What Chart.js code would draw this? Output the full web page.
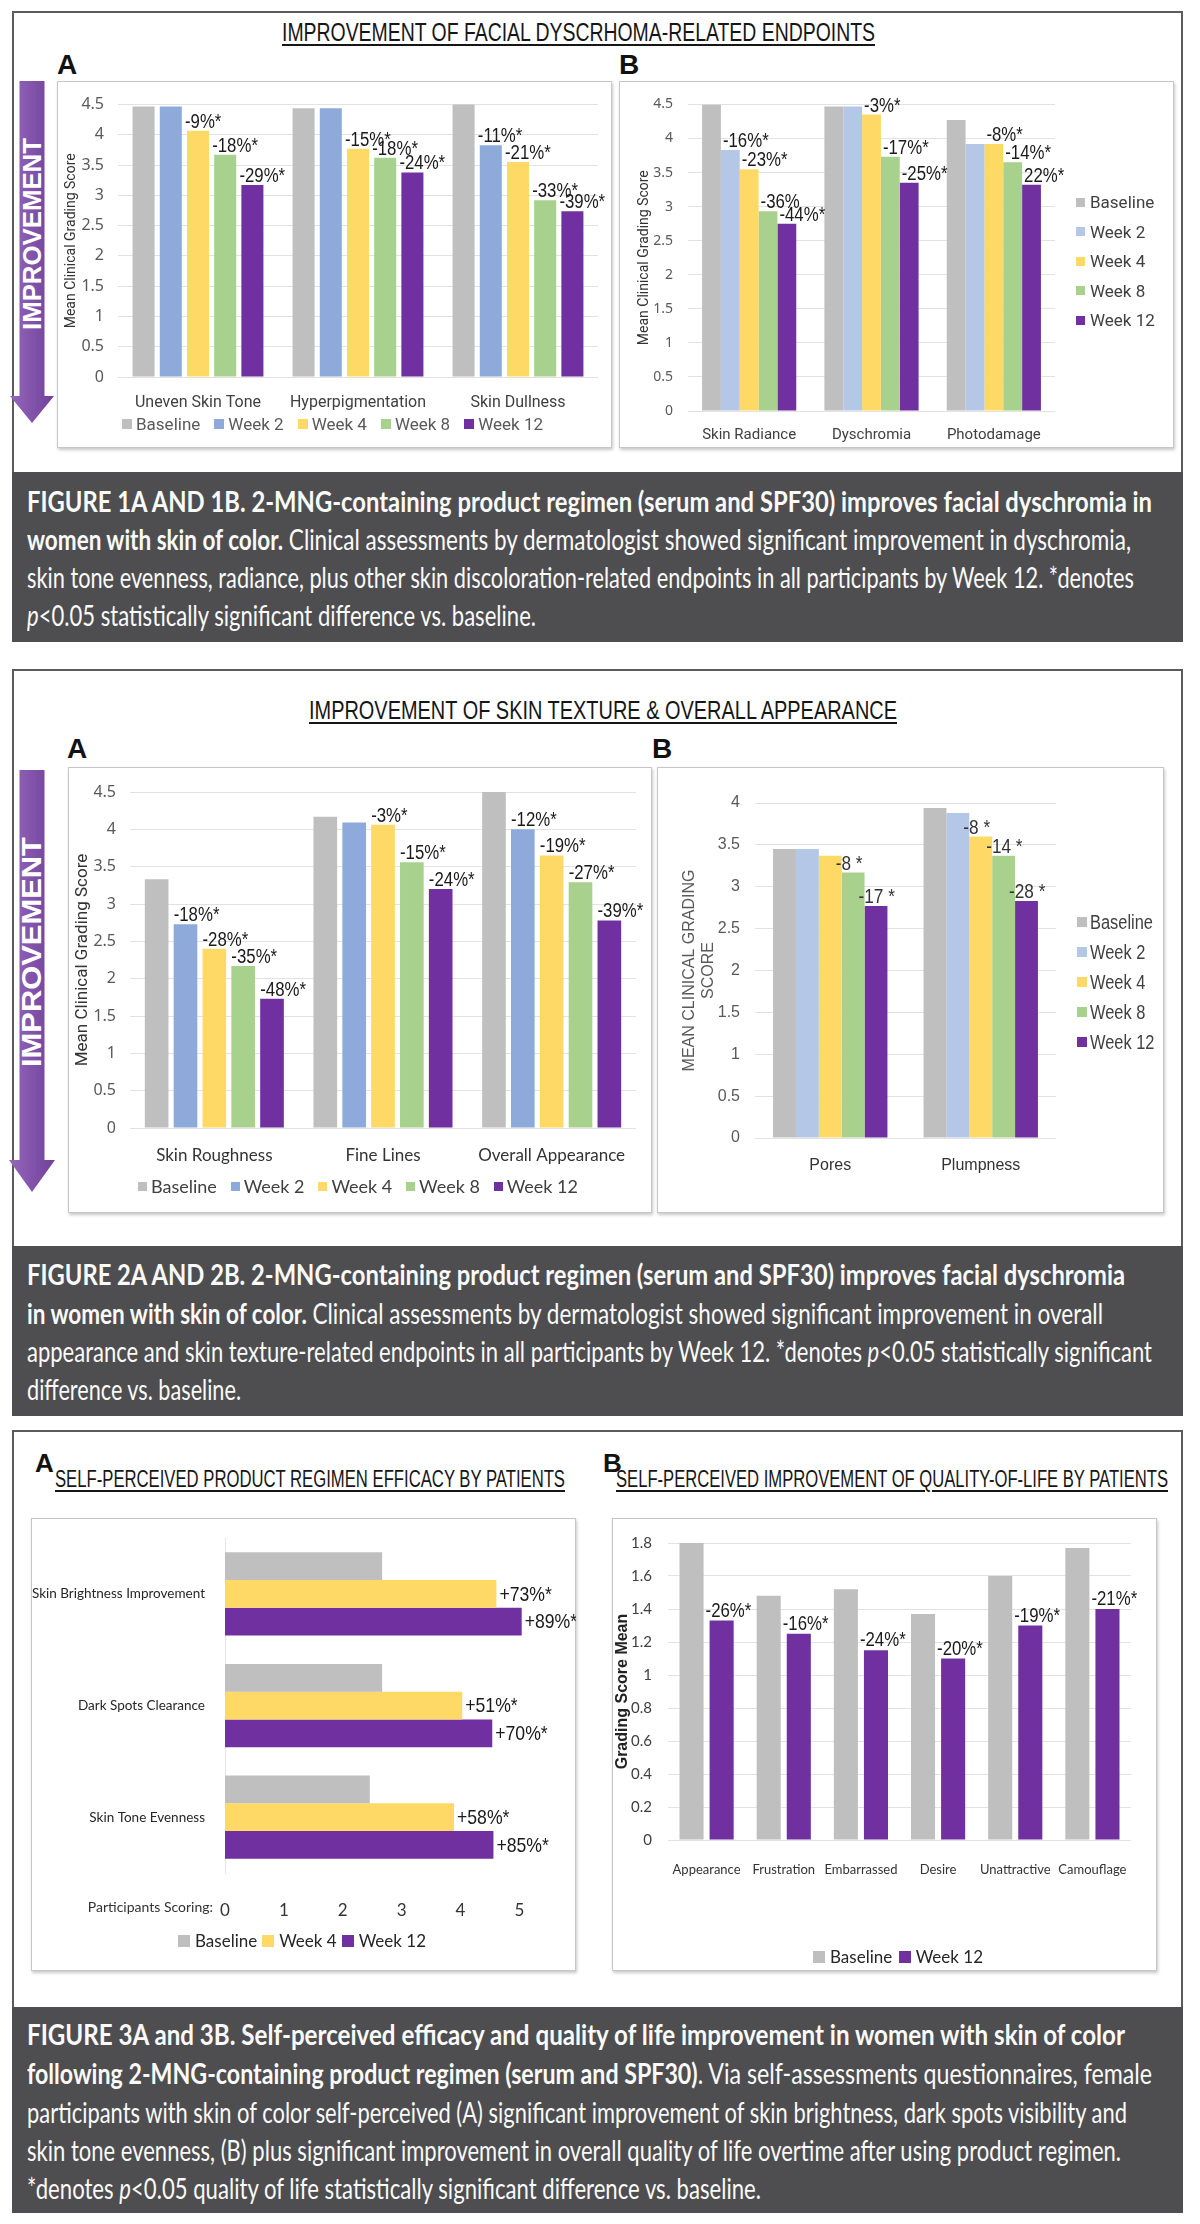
<!DOCTYPE html>
<html><head><meta charset="utf-8"><title>2-MNG figures</title>
<script src="https://cdn.jsdelivr.net/npm/chart.js@4.4.1/dist/chart.umd.min.js"></script>
<style>
html,body{margin:0;padding:0;background:#fff}
body{width:1200px;height:2224px;position:relative;overflow:hidden;font-family:"Liberation Sans",Arial,sans-serif}
.fig{position:absolute;left:12px;width:1171px;border:2px solid #5b5b5b;box-sizing:border-box;background:#fff}
.cap{position:absolute;left:12px;width:1171px;background:#4e4e50}
.ln{position:absolute;left:27px;white-space:nowrap;transform-origin:0 50%;color:#fafafa;font-size:29px;line-height:32px;height:32px;font-family:Lato,"Liberation Sans",sans-serif}
.box{position:absolute;border:1px solid #c6c6c6;box-sizing:border-box;background:#fff;box-shadow:1px 2px 3px rgba(0,0,0,.22)}
canvas{position:absolute}
.ttl{position:absolute;white-space:nowrap;text-decoration:underline;text-decoration-thickness:2px;text-underline-offset:3px;transform-origin:0 50%;color:#161616;line-height:30px;height:30px;font-family:"Liberation Sans",sans-serif}
.pl{position:absolute;font-weight:bold;line-height:30px;height:30px;color:#111;transform:translateY(-50%)}
.lg{position:absolute;display:flex;white-space:nowrap}
.lg .it{display:flex;align-items:center}
.lg .sq{display:inline-block;flex:none}
.lg .tx{display:inline-block;transform-origin:0 50%}
.arr{position:absolute;white-space:nowrap;color:#fff;font-weight:bold;line-height:28px;height:28px}
.txt{position:absolute;white-space:nowrap}
</style></head>
<body>

<!-- Figure frames -->
<div class="fig" style="top:11px;height:631px"></div>
<div class="cap" style="top:472px;height:170px"></div>
<div class="fig" style="top:669px;height:747px"></div>
<div class="cap" style="top:1246px;height:170px"></div>
<div class="fig" style="top:1430px;height:783px"></div>
<div class="cap" style="top:2007px;height:206px"></div>

<!-- Chart boxes -->
<div class="box" style="left:57px;top:81px;width:555px;height:367px"></div>
<div class="box" style="left:619px;top:81px;width:555px;height:367px"></div>
<div class="box" style="left:68px;top:767px;width:584px;height:446px"></div>
<div class="box" style="left:657px;top:767px;width:507px;height:446px"></div>
<div class="box" style="left:31px;top:1518px;width:545px;height:453px"></div>
<div class="box" style="left:612px;top:1518px;width:545px;height:453px"></div>

<!-- Improvement arrows -->
<svg style="position:absolute;left:0;top:0" width="80" height="1300">
<defs><linearGradient id="ag" x1="0" x2="1" y1="0" y2="0"><stop offset="0" stop-color="#9568bb"/><stop offset="0.5" stop-color="#8253aa"/><stop offset="1" stop-color="#70419a"/></linearGradient></defs>
<polygon points="19.5,81 44.5,81 44.5,396 54,396 32,423 10,396 19.5,396" fill="url(#ag)"/>
<polygon points="19.5,770 44.5,770 44.5,1160 55,1160 32,1192 9,1160 19.5,1160" fill="url(#ag)"/>
</svg>
<div class="arr" data-cx="32" data-cy="234" data-len="192" style="font-size:25px">IMPROVEMENT</div>
<div class="arr" data-cx="32" data-cy="952" data-len="230" style="font-size:27px">IMPROVEMENT</div>

<!-- Titles -->
<div class="ttl" data-x1="282" data-x2="875" style="top:17px;font-size:26px">IMPROVEMENT OF FACIAL DYSCRHOMA-RELATED ENDPOINTS</div>
<div class="ttl" data-x1="309" data-x2="897" style="top:695px;font-size:26px">IMPROVEMENT OF SKIN TEXTURE &amp; OVERALL APPEARANCE</div>
<div class="ttl" data-x1="55" data-x2="565" style="top:1464px;font-size:23px">SELF-PERCEIVED PRODUCT REGIMEN EFFICACY BY PATIENTS</div>
<div class="ttl" data-x1="616" data-x2="1168" style="top:1464px;font-size:23px">SELF-PERCEIVED IMPROVEMENT OF QUALITY-OF-LIFE BY PATIENTS</div>

<div class="pl" style="left:57px;top:65px;font-size:28px">A</div>
<div class="pl" style="left:619px;top:65px;font-size:28px">B</div>
<div class="pl" style="left:67px;top:749px;font-size:28px">A</div>
<div class="pl" style="left:652px;top:749px;font-size:28px">B</div>
<div class="pl" style="left:35px;top:1463px;font-size:26px">A</div>
<div class="pl" style="left:603px;top:1463px;font-size:26px">B</div>

<!-- Captions -->
<div class="ln" data-w="1125" style="top:485px"><b>FIGURE 1A AND 1B. 2-MNG-containing product regimen (serum and SPF30) improves facial dyschromia in</b></div>
<div class="ln" data-w="1104" style="top:523px"><b>women with skin of color.</b> Clinical assessments by dermatologist showed significant improvement in dyschromia,</div>
<div class="ln" data-w="1107" style="top:561px">skin tone evenness, radiance, plus other skin discoloration-related endpoints in all participants by Week 12. *denotes</div>
<div class="ln" data-w="509" style="top:599px"><i>p</i>&lt;0.05 statistically significant difference vs. baseline.</div>

<div class="ln" data-w="1098" style="top:1258px"><b>FIGURE 2A AND 2B. 2-MNG-containing product regimen (serum and SPF30) improves facial dyschromia</b></div>
<div class="ln" data-w="1076" style="top:1297px"><b>in women with skin of color.</b> Clinical assessments by dermatologist showed significant improvement in overall</div>
<div class="ln" data-w="1125" style="top:1335px">appearance and skin texture-related endpoints in all participants by Week 12. *denotes <i>p</i>&lt;0.05 statistically significant</div>
<div class="ln" data-w="214" style="top:1373px">difference vs. baseline.</div>

<div class="ln" data-w="1098" style="top:2018px"><b>FIGURE 3A and 3B. Self-perceived efficacy and quality of life improvement in women with skin of color</b></div>
<div class="ln" data-w="1125" style="top:2057px"><b>following 2-MNG-containing product regimen (serum and SPF30)</b>. Via self-assessments questionnaires, female</div>
<div class="ln" data-w="1100" style="top:2096px">participants with skin of color self-perceived (A) significant improvement of skin brightness, dark spots visibility and</div>
<div class="ln" data-w="1094" style="top:2134px">skin tone evenness, (B) plus significant improvement in overall quality of life overtime after using product regimen.</div>
<div class="ln" data-w="734" style="top:2172px">*denotes <i>p</i>&lt;0.05 quality of life statistically significant difference vs. baseline.</div>

<script>
// ---------------- DATA ----------------
const SERIES5 = ['Baseline', 'Week 2', 'Week 4', 'Week 8', 'Week 12'];
const SERIES3A = ['Baseline', 'Week 4', 'Week 12'];
const SERIES3B = ['Baseline', 'Week 12'];

// Figure 1A
const f1aCats = ['Uneven Skin Tone', 'Hyperpigmentation', 'Skin Dullness'];
const f1aBaseline = [4.47, 4.44, 4.58];
const f1aWeek2 = [4.47, 4.44, 3.83];
const f1aWeek4 = [4.07, 3.77, 3.55];
const f1aWeek8 = [3.67, 3.62, 2.92];
const f1aWeek12 = [3.17, 3.38, 2.74];
const f1aWeek2Lbl = ['', '', '-11%*'];
const f1aWeek4Lbl = ['-9%*', '-15%*', '-21%*'];
const f1aWeek8Lbl = ['-18%*', '-18%*', '-33%*'];
const f1aWeek12Lbl = ['-29%*', '-24%*', '-39%*'];

// Figure 1B
const f1bCats = ['Skin Radiance', 'Dyschromia', 'Photodamage'];
const f1bBaseline = [4.50, 4.47, 4.27];
const f1bWeek2 = [3.83, 4.47, 3.92];
const f1bWeek4 = [3.55, 4.35, 3.92];
const f1bWeek8 = [2.93, 3.73, 3.65];
const f1bWeek12 = [2.75, 3.35, 3.32];
const f1bWeek2Lbl = ['-16%*', '', ''];
const f1bWeek4Lbl = ['-23%*', '-3%*', '-8%*'];
const f1bWeek8Lbl = ['-36%', '-17%*', '-14%*'];
const f1bWeek12Lbl = ['-44%*', '-25%*', '22%*'];

// Figure 2A
const f2aCats = ['Skin Roughness', 'Fine Lines', 'Overall Appearance'];
const f2aBaseline = [3.33, 4.17, 4.52];
const f2aWeek2 = [2.73, 4.09, 4.00];
const f2aWeek4 = [2.40, 4.06, 3.65];
const f2aWeek8 = [2.17, 3.56, 3.29];
const f2aWeek12 = [1.73, 3.20, 2.78];
const f2aWeek2Lbl = ['-18%*', '', '-12%*'];
const f2aWeek4Lbl = ['-28%*', '-3%*', '-19%*'];
const f2aWeek8Lbl = ['-35%*', '-15%*', '-27%*'];
const f2aWeek12Lbl = ['-48%*', '-24%*', '-39%*'];

// Figure 2B
const f2bCats = ['Pores', 'Plumpness'];
const f2bBaseline = [3.45, 3.94];
const f2bWeek2 = [3.45, 3.88];
const f2bWeek4 = [3.37, 3.60];
const f2bWeek8 = [3.17, 3.37];
const f2bWeek12 = [2.77, 2.83];
const f2bWeek4Lbl = ['', '-8 *'];
const f2bWeek8Lbl = ['-8 *', '-14 *'];
const f2bWeek12Lbl = ['-17 *', '-28 *'];

// Figure 3A
const f3aCats = ['Skin Brightness Improvement', 'Dark Spots Clearance', 'Skin Tone Evenness'];
const f3aBaseline = [2.67, 2.67, 2.46];
const f3aWeek4 = [4.61, 4.03, 3.89];
const f3aWeek12 = [5.04, 4.54, 4.56];
const f3aWeek4Lbl = ['+73%*', '+51%*', '+58%*'];
const f3aWeek12Lbl = ['+89%*', '+70%*', '+85%*'];

// Figure 3B
const f3bCats = ['Appearance', 'Frustration', 'Embarrassed', 'Desire', 'Unattractive', 'Camouflage'];
const f3bBaseline = [1.80, 1.48, 1.52, 1.37, 1.60, 1.77];
const f3bWeek12 = [1.33, 1.25, 1.15, 1.10, 1.30, 1.40];
const f3bWeek12Lbl = ['-26%*', '-16%*', '-24%*', '-20%*', '-19%*', '-21%*'];

// ---------------- STYLE ----------------
const GRAY = '#bfbfbf', BLUE = '#8eaadb', LBLUE = '#b4c7e7', YEL = '#ffd966', GRN = '#a9d18e', PUR = '#7030a0';
const LATO = 'Lato, "Liberation Sans", sans-serif';
const ARIAL = '"Liberation Sans", Arial, sans-serif';

const barLabelPlugin = {
  id: 'barLabels',
  afterDatasetsDraw(chart, args, o) {
    const ctx = chart.ctx;
    chart.data.datasets.forEach((ds, i) => {
      if (!ds.valueLabels) return;
      chart.getDatasetMeta(i).data.forEach((el, j) => {
        const t = ds.valueLabels[j];
        if (!t) return;
        ctx.save();
        ctx.font = o.font; ctx.fillStyle = o.color || '#1a1a1a'; ctx.textAlign = 'left';
        let x, y;
        if (o.horizontal) { x = el.x + o.dx; y = el.y + o.dy; ctx.textBaseline = 'middle'; }
        else { x = el.x - el.width / 2 + o.dx; y = el.y + o.dy; ctx.textBaseline = 'alphabetic'; }
        ctx.translate(x, y); ctx.scale(o.sx || 1, 1); ctx.fillText(t, 0, 0);
        ctx.restore();
      });
    });
  }
};

function mkCanvas(box) {
  const c = document.createElement('canvas');
  c.width = box.w; c.height = box.h;
  c.style.left = box.x + 'px'; c.style.top = box.y + 'px';
  document.body.appendChild(c);
  return c;
}

function vbar(o) {
  const c = mkCanvas(o.box);
  const yW = o.plot.l - o.box.x - o.padL;
  const padB = o.box.y + o.box.h - o.plot.b - o.xh;
  return new Chart(c, {
    type: 'bar',
    data: {
      labels: o.cats,
      datasets: o.series.map((s, i) => ({
        label: s.name, data: s.data, valueLabels: s.lbl, backgroundColor: o.colors[i],
        borderWidth: 0, categoryPercentage: o.cp, barPercentage: o.bp
      }))
    },
    options: {
      responsive: false, animation: false, devicePixelRatio: 1,
      layout: { padding: { left: o.padL, right: o.box.x + o.box.w - o.plot.r, top: o.plot.t - o.box.y, bottom: padB } },
      plugins: { legend: { display: false }, tooltip: { enabled: false }, barLabels: o.lab },
      scales: {
        x: {
          grid: { display: false }, border: { display: false },
          ticks: { color: o.xc, font: o.xf, padding: o.xpad, maxRotation: 0, autoSkip: false },
          afterFit(s) { s.height = o.xh; }
        },
        y: {
          min: 0, max: o.max,
          grid: { color: '#e2e2e2', drawTicks: false, lineWidth: 1 }, border: { display: false },
          ticks: { stepSize: o.step, color: o.yc, font: o.yf, padding: o.ypad, callback: v => String(+(+v).toFixed(2)) },
          title: { display: true, text: o.ytitle, color: o.ytc, font: o.ytf, padding: { top: o.ytp, bottom: 0 } },
          afterFit(s) { s.width = yW; }
        }
      }
    },
    plugins: [barLabelPlugin]
  });
}

function legend(names, colors, st) {
  const d = document.createElement('div');
  d.className = 'lg';
  d.style.fontFamily = st.family; d.style.fontSize = st.size + 'px'; d.style.color = st.color;
  d.style.lineHeight = st.lh + 'px';
  if (st.dir === 'row') {
    d.style.left = st.x1 + 'px'; d.style.width = (st.x2 - st.x1) + 'px';
    d.style.top = (st.y - st.lh / 2) + 'px'; d.style.height = st.lh + 'px';
    d.style.justifyContent = 'space-between';
  } else {
    d.style.left = st.x + 'px'; d.style.flexDirection = 'column';
    d.style.top = (st.y1 - st.lh / 2) + 'px'; d.style.height = (st.y2 - st.y1 + st.lh) + 'px';
    d.style.justifyContent = 'space-between';
  }
  names.forEach((n, i) => {
    const it = document.createElement('div'); it.className = 'it';
    const sq = document.createElement('span'); sq.className = 'sq';
    sq.style.width = st.sq + 'px'; sq.style.height = st.sq + 'px'; sq.style.background = colors[i];
    sq.style.marginRight = st.gap + 'px';
    const tx = document.createElement('span'); tx.className = 'tx'; tx.textContent = n;
    if (st.sx) tx.style.transform = 'scaleX(' + st.sx + ')';
    it.appendChild(sq); it.appendChild(tx);
    d.appendChild(it);
  });
  document.body.appendChild(d);
}

const COLS5A = [GRAY, BLUE, YEL, GRN, PUR];
const COLS5B = [GRAY, LBLUE, YEL, GRN, PUR];

// ---- Figure 1A ----
vbar({
  box: { x: 57, y: 81, w: 555, h: 367 }, plot: { l: 118, r: 598, t: 104, b: 377 }, padL: 4, xh: 40,
  cats: f1aCats, colors: COLS5A, cp: 0.85, bp: 0.81, max: 4.5, step: 0.5,
  series: [
    { name: SERIES5[0], data: f1aBaseline }, { name: SERIES5[1], data: f1aWeek2, lbl: f1aWeek2Lbl },
    { name: SERIES5[2], data: f1aWeek4, lbl: f1aWeek4Lbl }, { name: SERIES5[3], data: f1aWeek8, lbl: f1aWeek8Lbl },
    { name: SERIES5[4], data: f1aWeek12, lbl: f1aWeek12Lbl }],
  xc: '#404040', xf: { family: 'Roboto', size: 16 }, xpad: 8,
  yc: '#595959', yf: { family: '"Noto Sans"', size: 16 }, ypad: 14,
  ytitle: 'Mean Clinical Grading Score', ytc: '#333', ytf: { family: 'Roboto', size: 14 }, ytp: 2,
  lab: { font: '20px "Liberation Sans"', sx: 0.84, dx: -2, dy: -3 }
});
legend(SERIES5, COLS5A, { dir: 'row', x1: 122, x2: 543, y: 424, lh: 22, family: 'Roboto', size: 17, color: '#595959', sq: 10, gap: 4 });

// ---- Figure 1B ----
vbar({
  box: { x: 619, y: 81, w: 555, h: 367 }, plot: { l: 688, r: 1055, t: 93, b: 411 }, padL: 15, xh: 36,
  cats: f1bCats, colors: COLS5B, cp: 0.77, bp: 1.0, max: 4.5, step: 0.5,
  series: [
    { name: SERIES5[0], data: f1bBaseline }, { name: SERIES5[1], data: f1bWeek2, lbl: f1bWeek2Lbl },
    { name: SERIES5[2], data: f1bWeek4, lbl: f1bWeek4Lbl }, { name: SERIES5[3], data: f1bWeek8, lbl: f1bWeek8Lbl },
    { name: SERIES5[4], data: f1bWeek12, lbl: f1bWeek12Lbl }],
  xc: '#404040', xf: { family: 'Roboto', size: 15 }, xpad: 7,
  yc: '#595959', yf: { family: '"Noto Sans"', size: 14 }, ypad: 15,
  ytitle: 'Mean Clinical Grading Score', ytc: '#333', ytf: { family: 'Roboto', size: 14 }, ytp: 2,
  lab: { font: '20px "Liberation Sans"', sx: 0.84, dx: 2, dy: -3 }
});
legend(SERIES5, COLS5B, { dir: 'col', x: 1076, y1: 202, y2: 320, lh: 22, family: 'Roboto', size: 17, color: '#404040', sq: 9, gap: 5 });

// ---- Figure 2A ----
vbar({
  box: { x: 68, y: 767, w: 584, h: 446 }, plot: { l: 130, r: 636, t: 792, b: 1128 }, padL: 3, xh: 40,
  cats: f2aCats, colors: COLS5A, cp: 0.855, bp: 0.82, max: 4.5, step: 0.5,
  series: [
    { name: SERIES5[0], data: f2aBaseline }, { name: SERIES5[1], data: f2aWeek2, lbl: f2aWeek2Lbl },
    { name: SERIES5[2], data: f2aWeek4, lbl: f2aWeek4Lbl }, { name: SERIES5[3], data: f2aWeek8, lbl: f2aWeek8Lbl },
    { name: SERIES5[4], data: f2aWeek12, lbl: f2aWeek12Lbl }],
  xc: '#333', xf: { family: LATO, size: 17 }, xpad: 9,
  yc: '#595959', yf: { family: '"Noto Sans"', size: 16 }, ypad: 14,
  ytitle: 'Mean Clinical Grading Score', ytc: '#333', ytf: { family: 'Roboto', size: 17 }, ytp: 2,
  lab: { font: '20px "Liberation Sans"', sx: 0.84, dx: 0, dy: -3 }
});
legend(SERIES5, COLS5A, { dir: 'row', x1: 138, x2: 578, y: 1186, lh: 24, family: LATO, size: 18, color: '#404040', sq: 9, gap: 4 });

// ---- Figure 2B ----
vbar({
  box: { x: 657, y: 767, w: 507, h: 446 }, plot: { l: 755, r: 1056, t: 803, b: 1138 }, padL: 21, xh: 40,
  cats: f2bCats, colors: COLS5B, cp: 0.76, bp: 1.0, max: 4, step: 0.5,
  series: [
    { name: SERIES5[0], data: f2bBaseline }, { name: SERIES5[1], data: f2bWeek2 },
    { name: SERIES5[2], data: f2bWeek4, lbl: f2bWeek4Lbl }, { name: SERIES5[3], data: f2bWeek8, lbl: f2bWeek8Lbl },
    { name: SERIES5[4], data: f2bWeek12, lbl: f2bWeek12Lbl }],
  xc: '#333', xf: { family: ARIAL, size: 16 }, xpad: 10,
  yc: '#595959', yf: { family: ARIAL, size: 16 }, ypad: 15,
  ytitle: ['MEAN CLINICAL GRADING', 'SCORE'], ytc: '#595959', ytf: { family: ARIAL, size: 16 }, ytp: 2,
  lab: { font: '20px "Liberation Sans"', sx: 0.86, dx: -6, dy: -3, color: '#333' }
});
legend(SERIES5, COLS5B, { dir: 'col', x: 1077, y1: 922, y2: 1042, lh: 24, family: ARIAL, size: 20, color: '#404040', sq: 10, gap: 3, sx: 0.82 });

// ---- Figure 3A (horizontal) ----
(function () {
  const box = { x: 31, y: 1518, w: 545, h: 453 };
  const c = mkCanvas(box);
  new Chart(c, {
    type: 'bar',
    data: {
      labels: f3aCats,
      datasets: [
        { label: SERIES3A[0], data: f3aBaseline, backgroundColor: GRAY },
        { label: SERIES3A[1], data: f3aWeek4, valueLabels: f3aWeek4Lbl, backgroundColor: YEL },
        { label: SERIES3A[2], data: f3aWeek12, valueLabels: f3aWeek12Lbl, backgroundColor: PUR }
      ].map(d => Object.assign(d, { borderWidth: 0, categoryPercentage: 0.745, barPercentage: 1.0 }))
    },
    options: {
      indexAxis: 'y', responsive: false, animation: false, devicePixelRatio: 1,
      layout: { padding: { left: 0, right: 39, top: 1536 - 1518, bottom: 1971 - 1873 - 50 } },
      plugins: { legend: { display: false }, tooltip: { enabled: false },
        barLabels: { horizontal: true, font: '21px "Liberation Sans"', sx: 0.84, dx: 3, dy: 1 } },
      scales: {
        x: { min: 0, max: 5.3, grid: { display: false }, border: { display: false },
          ticks: { stepSize: 1, includeBounds: false, color: '#333', font: { family: LATO, size: 17 }, padding: 19, maxRotation: 0 },
          afterFit(s) { s.height = 50; } },
        y: { grid: { display: false }, border: { display: true, color: '#e6e6e6' },
          ticks: { color: '#262626', font: { family: LATO, size: 13.5 }, padding: 12 },
          afterFit(s) { s.width = 194; } }
      }
    },
    plugins: [barLabelPlugin]
  });
  const t = document.createElement('div'); t.className = 'txt';
  t.textContent = 'Participants Scoring:';
  t.style.cssText += 'font-family:' + LATO + ';font-size:14px;color:#333;line-height:18px;top:1898px;right:' + (1200 - 213) + 'px';
  document.body.appendChild(t);
})();
legend(SERIES3A, [GRAY, YEL, PUR], { dir: 'row', x1: 178, x2: 426, y: 1941, lh: 24, family: LATO, size: 17, color: '#262626', sq: 12, gap: 5 });

// ---- Figure 3B ----
vbar({
  box: { x: 612, y: 1518, w: 545, h: 453 }, plot: { l: 668, r: 1131, t: 1535, b: 1840 }, padL: 0, xh: 45,
  cats: f3bCats, colors: [GRAY, PUR], cp: 0.78, bp: 0.8, max: 1.8, step: 0.2,
  series: [{ name: SERIES3B[0], data: f3bBaseline }, { name: SERIES3B[1], data: f3bWeek12, lbl: f3bWeek12Lbl }],
  xc: '#333', xf: { family: LATO, size: 13 }, xpad: 14,
  yc: '#404040', yf: { family: LATO, size: 15 }, ypad: 16,
  ytitle: 'Grading Score Mean', ytc: '#222', ytf: { family: ARIAL, size: 16, weight: 'bold' }, ytp: 1,
  lab: { font: '20px "Liberation Sans"', sx: 0.84, dx: -4, dy: -4 }
});
legend(SERIES3B, [GRAY, PUR], { dir: 'row', x1: 813, x2: 983, y: 1957, lh: 24, family: LATO, size: 17, color: '#262626', sq: 12, gap: 5 });

// ---------------- text fitting ----------------
function fit() {
  document.querySelectorAll('.ln').forEach(el => {
    el.style.transform = 'none';
    const w = el.getBoundingClientRect().width;
    el.style.transform = 'scaleX(' + (+el.dataset.w / w) + ')';
  });
  document.querySelectorAll('.ttl').forEach(el => {
    el.style.left = el.dataset.x1 + 'px';
    el.style.transform = 'none';
    const w = el.getBoundingClientRect().width;
    el.style.transform = 'scaleX(' + ((el.dataset.x2 - el.dataset.x1) / w) + ')';
  });
  document.querySelectorAll('.arr').forEach(el => {
    el.style.transform = 'none';
    const w = el.getBoundingClientRect().width;
    el.style.left = el.dataset.cx + 'px'; el.style.top = el.dataset.cy + 'px';
    el.style.transform = 'translate(-50%,-50%) rotate(-90deg) scaleX(' + (el.dataset.len / w) + ')';
  });
}
fit();
if (document.fonts && document.fonts.ready) document.fonts.ready.then(fit);
</script>
</body></html>
